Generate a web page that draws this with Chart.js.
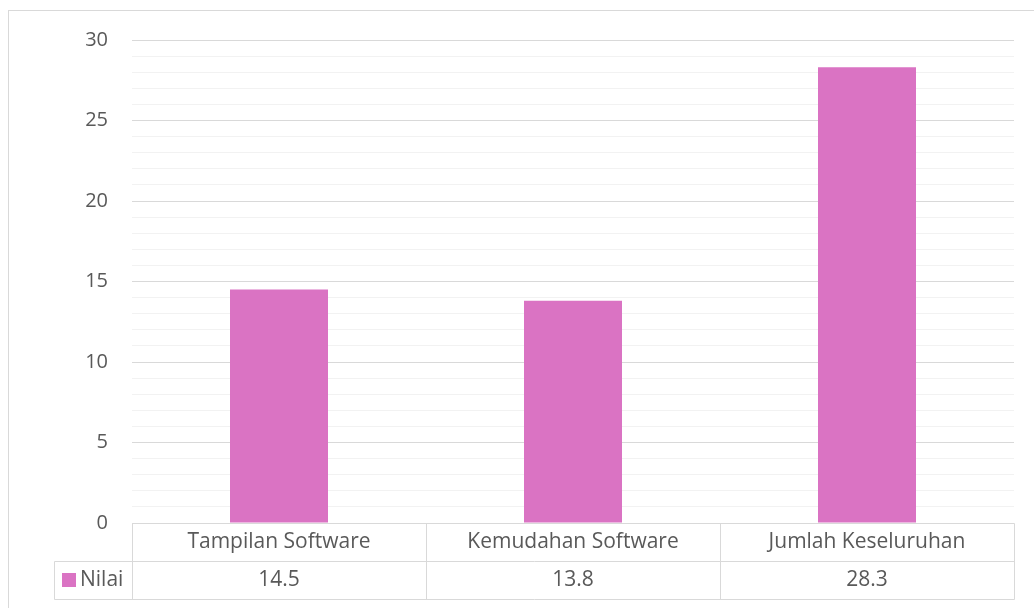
<!DOCTYPE html>
<html>
<head>
<meta charset="utf-8">
<script src="https://cdn.jsdelivr.net/npm/chart.js@4.4.1/dist/chart.umd.min.js"></script>
<style>
  html, body { margin: 0; padding: 0; background: #ffffff; }
  #wrap { width: 1034px; height: 608px; }
</style>
</head>
<body>
<div id="wrap"><canvas id="c" width="1034" height="608"></canvas></div>
<script>
// ---- data ----
const categories = ['Tampilan Software', 'Kemudahan Software', 'Jumlah Keseluruhan'];
const seriesName = 'Nilai';
const values = [14.5, 13.8, 28.3];
const yMin = 0;
const yMax = 30;
const yMajorStep = 5;
const yMinorStep = 1;

// ---- styles ----
const FONT = "'Open Sans', 'DejaVu Sans', sans-serif";
const TEXT = '#595959';
const MAJOR = '#D9D9D9';
const MINOR = '#F2F2F2';
const BAR = '#DA73C3';
const TABLE_ROW_H = 38;

const tablePlugin = {
  id: 'dataTable',
  beforeDraw(chart) {
    const ctx = chart.ctx;
    ctx.save();
    ctx.fillStyle = '#ffffff';
    ctx.fillRect(0, 0, chart.width, chart.height);
    ctx.strokeStyle = MAJOR;
    ctx.lineWidth = 1;
    ctx.strokeRect(8.5, 10.5, chart.width + 10, chart.height + 10);
    ctx.restore();
  },
  afterDraw(chart) {
    const ctx = chart.ctx;
    const xs = chart.scales.x;
    const area = chart.chartArea;
    const n = categories.length;
    const colW = (area.right - area.left) / n;
    const top = Math.round(area.bottom) + 0.5;
    const r1 = top + TABLE_ROW_H;
    const r2 = r1 + TABLE_ROW_H;
    const left = Math.round(area.left) + 0.5;
    const right = Math.round(area.right) + 0.5;
    const legendLeft = 54.5;

    ctx.save();
    ctx.strokeStyle = MAJOR;
    ctx.lineWidth = 1;
    ctx.beginPath();
    ctx.moveTo(left, top); ctx.lineTo(right, top);
    ctx.moveTo(legendLeft, r1); ctx.lineTo(right, r1);
    ctx.moveTo(legendLeft, r2); ctx.lineTo(right, r2);
    for (let i = 0; i <= n; i++) {
      const xp = Math.round(area.left + colW * i) + 0.5;
      ctx.moveTo(xp, top); ctx.lineTo(xp, r2);
    }
    ctx.moveTo(legendLeft, r1); ctx.lineTo(legendLeft, r2);
    ctx.stroke();

    ctx.fillStyle = TEXT;
    ctx.font = '21px ' + FONT;
    ctx.textAlign = 'center';
    ctx.textBaseline = 'middle';
    for (let i = 0; i < n; i++) {
      const cx = xs.getPixelForValue(i);
      ctx.fillText(categories[i], cx, (top + r1) / 2);
      ctx.fillText(String(values[i]), cx, (r1 + r2) / 2);
    }
    ctx.fillStyle = BAR;
    ctx.fillRect(62, 573, 14, 14);
    ctx.fillStyle = TEXT;
    ctx.textAlign = 'left';
    ctx.fillText(seriesName, 80, (r1 + r2) / 2);
    ctx.restore();
  }
};

new Chart(document.getElementById('c'), {
  type: 'bar',
  data: {
    labels: categories,
    datasets: [{
      label: seriesName,
      data: values,
      backgroundColor: BAR,
      borderWidth: 0,
      barPercentage: 1,
      categoryPercentage: 1 / 3
    }]
  },
  options: {
    responsive: false,
    animation: false,
    devicePixelRatio: 1,
    layout: { padding: { top: 40, right: 20, bottom: 85, left: 0 } },
    plugins: {
      legend: { display: false },
      tooltip: { enabled: false },
      title: { display: false }
    },
    scales: {
      x: {
        display: false
      },
      y: {
        min: yMin,
        max: yMax,
        afterFit(scale) { scale.width = 132; },
        border: { display: false },
        grid: {
          drawTicks: false,
          color(ctx) {
            return (ctx.tick && ctx.tick.value % yMajorStep === 0) ? MAJOR : MINOR;
          },
          lineWidth: 1
        },
        ticks: {
          stepSize: yMinorStep,
          autoSkip: false,
          padding: 24,
          color: TEXT,
          font: { family: FONT, size: 20 },
          callback(v) { return v % yMajorStep === 0 ? String(v) : ''; }
        }
      }
    }
  },
  plugins: [tablePlugin]
});
</script>
</body>
</html>
